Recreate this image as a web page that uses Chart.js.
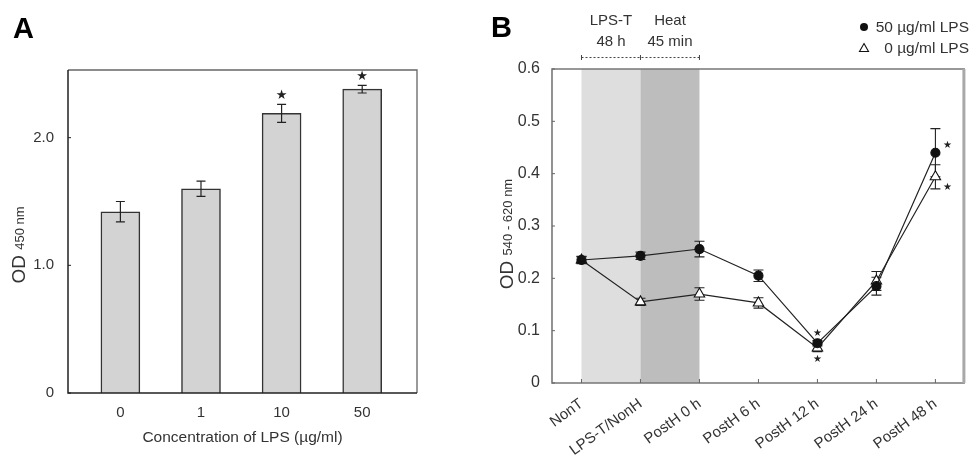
<!DOCTYPE html>
<html>
<head>
<meta charset="utf-8">
<script src="https://cdn.jsdelivr.net/npm/chart.js@4.4.1/dist/chart.umd.min.js"></script>
<style>
    html, body { margin: 0; padding: 0; background: #fff; }
    #wrap { position: relative; width: 972px; height: 458px; overflow: hidden; }
    #chartA { position: absolute; left: 0; top: 0; }
    #chartB { position: absolute; left: 480px; top: 0; }
</style>
</head>
<body>
<div id="wrap">
    <canvas id="chartA" width="480" height="458"></canvas>
    <canvas id="chartB" width="492" height="458"></canvas>
</div>
<script>
// Panel A: OD 450 nm vs LPS concentration
const lpsDoses = ["0", "1", "10", "50"];
const odA = [1.42, 1.60, 2.19, 2.38];
const odAErr = [0.08, 0.06, 0.07, 0.03];
const starA = [false, false, true, true];
const yTicksA = [0, 1.0, 2.0];

// Panel B: OD 540-620 nm time course
const timePoints = ["NonT", "LPS-T/NonH", "PostH 0 h", "PostH 6 h", "PostH 12 h", "PostH 24 h", "PostH 48 h"];
const lps50 = [0.235, 0.243, 0.256, 0.205, 0.076, 0.185, 0.440];
const lps50Err = [0.007, 0.007, 0.015, 0.011, 0.005, 0.017, 0.046];
const lps0 = [0.235, 0.155, 0.170, 0.153, 0.067, 0.195, 0.394];
const lps0Err = [0.006, 0.007, 0.012, 0.010, 0.007, 0.018, 0.023];
const star50 = [false, false, false, false, true, false, true];
const star0 = [false, false, false, false, true, false, true];

const FONT = "'Liberation Sans', Arial, sans-serif";
const TEXT = "#333";

// rotated axis title with a smaller second part, e.g. "OD" + "450 nm"
function drawYTitle(ctx, x, yCenter, big, small, bigSize, smallSize) {
    ctx.save();
    ctx.translate(x, yCenter);
    ctx.rotate(-Math.PI / 2);
    ctx.fillStyle = TEXT;
    ctx.textBaseline = "alphabetic";
    ctx.textAlign = "left";
    ctx.font = bigSize + "px " + FONT;
    const w1 = ctx.measureText(big + " ").width;
    ctx.font = smallSize + "px " + FONT;
    const w2 = ctx.measureText(small).width;
    const start = -(w1 + w2) / 2;
    ctx.font = bigSize + "px " + FONT;
    ctx.fillText(big, start, 0);
    ctx.font = smallSize + "px " + FONT;
    ctx.fillText(small, start + w1, -1);
    ctx.restore();
}

function drawStar(ctx, x, y, size) {
    ctx.save();
    ctx.fillStyle = "#222";
    ctx.font = size + "px 'DejaVu Sans'";
    ctx.textAlign = "center";
    ctx.textBaseline = "middle";
    ctx.fillText("★", x, y);
    ctx.restore();
}

function errBar(ctx, x, yTop, yBot, half) {
    ctx.beginPath();
    ctx.moveTo(x, yTop); ctx.lineTo(x, yBot);
    ctx.moveTo(x - half, yTop); ctx.lineTo(x + half, yTop);
    ctx.moveTo(x - half, yBot); ctx.lineTo(x + half, yBot);
    ctx.stroke();
}

// ---------- Panel A ----------
const panelA = {
    id: "panelA",
    afterDraw(chart) {
        const { ctx, chartArea: a, scales: { x, y } } = chart;
        ctx.save();
        // frame
        ctx.lineWidth = 1.3;
        ctx.strokeStyle = "#666";
        ctx.beginPath();
        ctx.moveTo(a.left, a.top); ctx.lineTo(a.right, a.top); ctx.lineTo(a.right, a.bottom);
        ctx.stroke();
        ctx.strokeStyle = "#222";
        ctx.lineWidth = 1.5;
        ctx.beginPath();
        ctx.moveTo(a.left, a.top); ctx.lineTo(a.left, a.bottom); ctx.lineTo(a.right, a.bottom);
        ctx.stroke();
        // inward y ticks
        ctx.lineWidth = 1;
        yTicksA.forEach(v => {
            const py = y.getPixelForValue(v);
            ctx.beginPath(); ctx.moveTo(a.left, py); ctx.lineTo(a.left + 3, py); ctx.stroke();
        });
        // error bars + stars
        ctx.strokeStyle = "#222";
        ctx.lineWidth = 1.2;
        odA.forEach((v, i) => {
            const px = x.getPixelForValue(i);
            const top = y.getPixelForValue(v + odAErr[i]);
            const bot = y.getPixelForValue(v - odAErr[i]);
            errBar(ctx, px, top, bot, 4.5);
            if (starA[i]) drawStar(ctx, px, top - 9, 13);
        });
        // titles
        ctx.fillStyle = TEXT;
        ctx.font = "15.5px " + FONT;
        ctx.textAlign = "center";
        ctx.fillText("Concentration of LPS (µg/ml)", (a.left + a.right) / 2, 442);
        drawYTitle(ctx, 25, 245, "OD", "450 nm", 19, 13);
        ctx.fillStyle = "#000";
        ctx.font = "bold 29px " + FONT;
        ctx.textAlign = "left";
        ctx.fillText("A", 13, 38);
        ctx.restore();
    }
};

new Chart(document.getElementById("chartA"), {
    type: "bar",
    data: {
        datasets: [{
            data: odA.map((v, i) => ({ x: i, y: v })),
            backgroundColor: "#d3d3d3",
            borderColor: "#333",
            borderWidth: 1.5,
            barThickness: 39
        }]
    },
    options: {
        responsive: false,
        animation: false,
        layout: { padding: { left: 0, top: 70, right: 63, bottom: 0 } },
        plugins: { legend: { display: false }, tooltip: { enabled: false } },
        scales: {
            x: {
                type: "linear",
                offset: false,
                min: -0.65,
                max: 3.68,
                grid: { display: false, offset: false },
                border: { display: false },
                afterBuildTicks: s => { s.ticks = lpsDoses.map((d, i) => ({ value: i })); },
                ticks: {
                    callback: v => lpsDoses[v],
                    font: { family: FONT, size: 15 },
                    color: TEXT,
                    padding: 3
                },
                afterFit: s => { s.height = 65; }
            },
            y: {
                min: 0,
                max: 2.53,
                grid: { display: false },
                border: { display: false },
                afterBuildTicks: s => { s.ticks = yTicksA.map(v => ({ value: v })); },
                ticks: {
                    callback: v => v === 0 ? "0" : v.toFixed(1),
                    font: { family: FONT, size: 15 },
                    color: TEXT,
                    padding: 6
                },
                afterFit: s => { s.width = 68; }
            }
        }
    },
    plugins: [panelA]
});

// ---------- Panel B ----------
const panelB = {
    id: "panelB",
    beforeDatasetsDraw(chart) {
        const { ctx, chartArea: a, scales: { x, y } } = chart;
        const x0 = x.getPixelForValue(0), x1 = x.getPixelForValue(1), x2 = x.getPixelForValue(2);
        ctx.save();
        // treatment bands
        ctx.fillStyle = "#dedede";
        ctx.fillRect(x0, a.top, x1 - x0, a.bottom - a.top);
        ctx.fillStyle = "#bdbdbd";
        ctx.fillRect(x1, a.top, x2 - x1, a.bottom - a.top);
        // error bars
        ctx.strokeStyle = "#222";
        ctx.lineWidth = 1.1;
        [[lps50, lps50Err], [lps0, lps0Err]].forEach(([vals, errs]) => {
            vals.forEach((v, i) => {
                const px = x.getPixelForValue(i);
                errBar(ctx, px, y.getPixelForValue(v + errs[i]), y.getPixelForValue(v - errs[i]), 5);
            });
        });
        ctx.restore();
    },
    afterDraw(chart) {
        const { ctx, chartArea: a, scales: { x, y } } = chart;
        const x0 = x.getPixelForValue(0), x1 = x.getPixelForValue(1), x2 = x.getPixelForValue(2);
        ctx.save();
        // frame
        ctx.strokeStyle = "#777";
        ctx.lineWidth = 1.6;
        ctx.beginPath();
        ctx.moveTo(a.right, a.bottom); ctx.lineTo(a.left, a.bottom); ctx.lineTo(a.left, a.top); ctx.lineTo(a.right, a.top);
        ctx.stroke();
        ctx.strokeStyle = "#a8a8a8";
        ctx.lineWidth = 3;
        ctx.beginPath(); ctx.moveTo(a.right - 1, a.top); ctx.lineTo(a.right - 1, a.bottom); ctx.stroke();
        // inward ticks
        ctx.strokeStyle = "#666";
        ctx.lineWidth = 1;
        y.ticks.forEach(t => {
            const py = y.getPixelForValue(t.value);
            ctx.beginPath(); ctx.moveTo(a.left, py); ctx.lineTo(a.left + 3, py); ctx.stroke();
        });
        timePoints.forEach((t, i) => {
            const px = x.getPixelForValue(i);
            ctx.beginPath(); ctx.moveTo(px, a.bottom); ctx.lineTo(px, a.bottom - 4); ctx.stroke();
        });
        // stars
        timePoints.forEach((t, i) => {
            const px = x.getPixelForValue(i);
            if (i === timePoints.length - 1) {
                if (star50[i]) drawStar(ctx, px + 12, y.getPixelForValue(lps50[i]) - 7, 10);
                if (star0[i]) drawStar(ctx, px + 12, y.getPixelForValue(lps0[i] - lps0Err[i]) - 1, 10);
            } else {
                if (star50[i]) drawStar(ctx, px, y.getPixelForValue(lps50[i] + lps50Err[i]) - 7, 10);
                if (star0[i]) drawStar(ctx, px, y.getPixelForValue(lps0[i] - lps0Err[i]) + 8, 10);
            }
        });
        // treatment header
        ctx.fillStyle = TEXT;
        ctx.font = "15px " + FONT;
        ctx.textAlign = "center";
        ctx.fillText("LPS-T", (x0 + x1) / 2, 25);
        ctx.fillText("48 h", (x0 + x1) / 2, 46);
        ctx.fillText("Heat", (x1 + x2) / 2, 25);
        ctx.fillText("45 min", (x1 + x2) / 2, 46);
        ctx.strokeStyle = "#444";
        ctx.lineWidth = 1;
        ctx.setLineDash([2, 2]);
        ctx.beginPath(); ctx.moveTo(x0, 57.5); ctx.lineTo(x2, 57.5); ctx.stroke();
        ctx.setLineDash([]);
        [x0, x1, x2].forEach(px => {
            ctx.beginPath(); ctx.moveTo(px, 55); ctx.lineTo(px, 60); ctx.stroke();
        });
        // legend
        ctx.fillStyle = "#111";
        ctx.beginPath(); ctx.arc(384, 27, 4, 0, Math.PI * 2); ctx.fill();
        ctx.strokeStyle = "#111";
        ctx.lineWidth = 1.1;
        ctx.beginPath(); ctx.moveTo(384, 43.5); ctx.lineTo(388.5, 51.5); ctx.lineTo(379.5, 51.5); ctx.closePath(); ctx.stroke();
        ctx.fillStyle = TEXT;
        ctx.font = "15.5px " + FONT;
        ctx.textAlign = "right";
        ctx.fillText("50 µg/ml LPS", 489, 32);
        ctx.fillText("0 µg/ml LPS", 489, 53);
        // titles
        drawYTitle(ctx, 33, 234, "OD", "540 - 620 nm", 19, 13);
        ctx.fillStyle = "#000";
        ctx.font = "bold 29px " + FONT;
        ctx.textAlign = "left";
        ctx.fillText("B", 11, 37);
        ctx.restore();
    }
};

new Chart(document.getElementById("chartB"), {
    type: "line",
    data: {
        labels: timePoints,
        datasets: [
            {
                label: "50 µg/ml LPS",
                data: lps50,
                borderColor: "#222",
                borderWidth: 1.2,
                pointStyle: "circle",
                pointRadius: 4.5,
                pointBackgroundColor: "#111",
                pointBorderColor: "#111",
                tension: 0
            },
            {
                label: "0 µg/ml LPS",
                data: lps0,
                borderColor: "#222",
                borderWidth: 1.2,
                pointStyle: "triangle",
                pointRadius: 6,
                pointBackgroundColor: "#fff",
                pointBorderColor: "#111",
                pointBorderWidth: 1.1,
                tension: 0
            }
        ]
    },
    options: {
        responsive: false,
        animation: false,
        layout: { padding: { left: 0, top: 69, right: 3, bottom: 0 } },
        plugins: { legend: { display: false }, tooltip: { enabled: false } },
        scales: {
            x: {
                offset: true,
                grid: { display: false },
                border: { display: false },
                ticks: {
                    minRotation: 36,
                    maxRotation: 36,
                    autoSkip: false,
                    font: { family: FONT, size: 15 },
                    color: TEXT,
                    padding: 4
                },
                afterFit: s => { s.height = 75; }
            },
            y: {
                min: 0,
                max: 0.6,
                grid: { display: false },
                border: { display: false },
                ticks: {
                    stepSize: 0.1,
                    callback: v => v === 0 ? "0" : v.toFixed(1),
                    font: { family: FONT, size: 16 },
                    color: TEXT,
                    padding: 4
                },
                afterFit: s => { s.width = 72; }
            }
        }
    },
    plugins: [panelB]
});
</script>
</body>
</html>
